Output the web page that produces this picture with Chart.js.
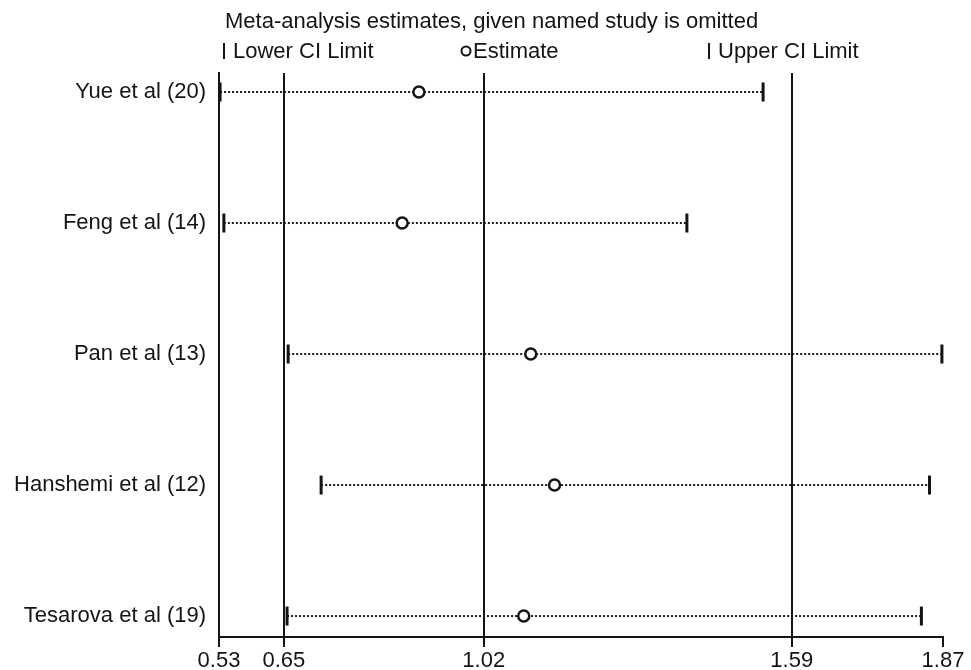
<!DOCTYPE html>
<html>
<head>
<meta charset="utf-8">
<script src="https://cdn.jsdelivr.net/npm/chart.js@4"></script>
<style>
    html, body { margin: 0; padding: 0; background: #fff; }
    #wrap { width: 971px; height: 670px; position: relative; }
</style>
</head>
<body>
<div id="wrap"><canvas id="chart"></canvas></div>
<script>
// Data
const studies = ['Yue et al (20)', 'Feng et al (14)', 'Pan et al (13)', 'Hanshemi et al (12)', 'Tesarova et al (19)'];
const lowerCI = [0.532, 0.539, 0.658, 0.719, 0.656];
const estimate = [0.900, 0.869, 1.107, 1.151, 1.094];
const upperCI = [1.537, 1.396, 1.868, 1.845, 1.830];
const xTicks = [0.53, 0.65, 1.02, 1.59, 1.87];
const refLines = [0.65, 1.02, 1.59];
const titleText = 'Meta-analysis estimates, given named study is omitted';
const legendLabels = ['Lower CI Limit', 'Estimate', 'Upper CI Limit'];

const FONT = '"Liberation Sans", Arial, sans-serif';
const INK = '#141414';

// one dotted line per study, lower -> upper
const ciLines = studies.map((s, i) => ({
    type: 'line',
    label: s,
    data: [{ x: lowerCI[i], y: i }, { x: upperCI[i], y: i }],
    borderColor: '#1c1c1c',
    borderWidth: 2,
    borderDash: [2, 2],
    pointRadius: 0,
    order: 3
}));

const tickStyle = {
    pointStyle: 'line',
    rotation: 90,
    pointRadius: 9.5,
    borderWidth: 3,
    borderColor: INK,
    clip: false,
    order: 1
};

const datasets = [
    ...ciLines,
    { label: 'Lower CI Limit', data: lowerCI.map((v, i) => ({ x: v, y: i })), ...tickStyle },
    { label: 'Upper CI Limit', data: upperCI.map((v, i) => ({ x: v, y: i })), ...tickStyle },
    {
        label: 'Estimate',
        data: estimate.map((v, i) => ({ x: v, y: i })),
        pointStyle: 'circle',
        pointRadius: 5.5,
        borderWidth: 2.5,
        borderColor: INK,
        backgroundColor: '#fff',
        order: 0
    }
];

// title + legend row drawn above the plot
const headerPlugin = {
    id: 'header',
    afterDraw(chart) {
        const ctx = chart.ctx;
        ctx.save();
        ctx.fillStyle = INK;
        ctx.strokeStyle = INK;
        ctx.font = '22px ' + FONT;
        ctx.textBaseline = 'alphabetic';
        ctx.fillText(titleText, 225, 28);

        // lower
        ctx.lineWidth = 2;
        ctx.beginPath(); ctx.moveTo(224, 43); ctx.lineTo(224, 59); ctx.stroke();
        ctx.fillText(legendLabels[0], 233, 58);
        // estimate
        ctx.beginPath(); ctx.arc(466, 51, 4.5, 0, Math.PI * 2); ctx.stroke();
        ctx.fillText(legendLabels[1], 473, 58);
        // upper
        ctx.beginPath(); ctx.moveTo(709, 43); ctx.lineTo(709, 59); ctx.stroke();
        ctx.fillText(legendLabels[2], 718, 58);
        ctx.restore();
    }
};

new Chart(document.getElementById('chart'), {
    type: 'scatter',
    data: { datasets },
    options: {
        responsive: true,
        maintainAspectRatio: false,
        animation: false,
        layout: { padding: { top: 73, right: 28, left: 0, bottom: 0 } },
        plugins: {
            legend: { display: false },
            tooltip: { enabled: false }
        },
        scales: {
            x: {
                type: 'linear',
                min: 0.53,
                max: 1.87,
                afterBuildTicks: s => { s.ticks = xTicks.map(v => ({ value: v })); },
                afterFit: s => { s.height = 33; },
                grid: {
                    color: c => (c.tick && refLines.includes(c.tick.value)) ? INK : 'rgba(0,0,0,0)',
                    tickColor: INK,
                    lineWidth: 2,
                    tickLength: 10
                },
                border: { display: true, color: INK, width: 2 },
                ticks: {
                    autoSkip: false,
                    maxRotation: 0,
                    padding: 1,
                    color: INK,
                    font: { family: FONT, size: 22 },
                    callback: v => v.toFixed(2)
                }
            },
            y: {
                type: 'linear',
                reverse: true,
                min: -0.145,
                max: 4.16,
                afterBuildTicks: s => { s.ticks = studies.map((_, i) => ({ value: i })); },
                afterFit: s => { s.width = 219; },
                grid: { display: false, drawTicks: false },
                border: { display: true, color: INK, width: 2 },
                ticks: {
                    padding: 13,
                    color: INK,
                    font: { family: FONT, size: 22 },
                    callback: v => studies[Math.round(v)]
                }
            }
        }
    },
    plugins: [headerPlugin]
});
</script>
</body>
</html>
